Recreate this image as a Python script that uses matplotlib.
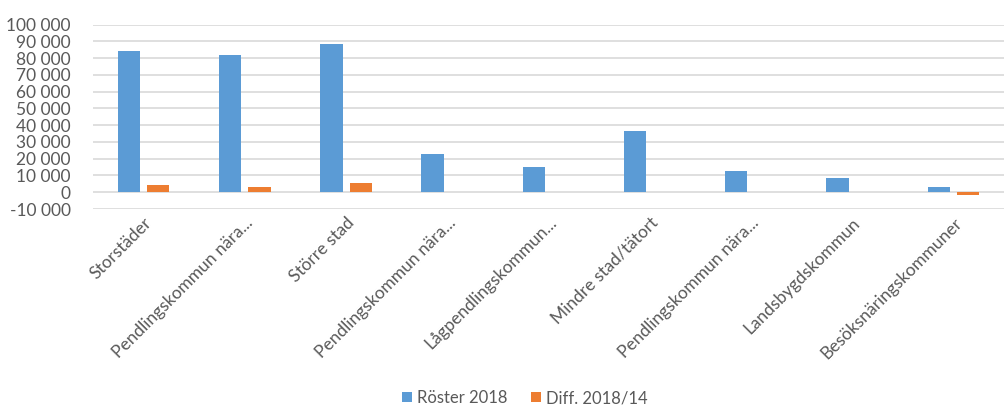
import matplotlib
matplotlib.use("Agg")
import matplotlib.pyplot as plt
import numpy as np
from matplotlib.ticker import FuncFormatter, MultipleLocator

categories = ["Storstäder", "Pendlingskommun nära...", "Större stad", "Pendlingskommun nära...",
              "Lågpendlingskommun...", "Mindre stad/tätort", "Pendlingskommun nära...",
              "Landsbygdskommun", "Besöksnäringskommuner"]
roster_2018 = [84300, 81700, 88300, 23000, 15200, 36500, 12400, 8600, 3200]
diff_2018_14 = [4600, 3200, 5800, 0, 0, 0, 0, 0, -1400]

plt.rcParams['font.family'] = ['Lato', 'DejaVu Sans']
fig = plt.figure(figsize=(10.06, 4.07), dpi=100)
ax = fig.add_axes([93/1006, (407-209)/407, (1004-93)/1006, (209-24.7)/407])

x = np.arange(len(categories))
w = 0.22
ax.bar(x - 0.145, roster_2018, w, color="#5B9BD5", label="Röster 2018", zorder=3)
ax.bar(x + 0.145, diff_2018_14, w, color="#ED7D31", label="Diff. 2018/14", zorder=3)

ax.set_xlim(-0.5, len(categories) - 0.5)
ax.set_ylim(-10000, 100000)
ax.yaxis.set_major_locator(MultipleLocator(10000))
ax.yaxis.set_major_formatter(FuncFormatter(lambda v, p: f"{int(v):,}".replace(",", " ")))
ax.grid(axis="y", color="#D9D9D9", linewidth=1.2, zorder=0)
for s in ax.spines.values():
    s.set_visible(False)
ax.tick_params(axis="both", length=0, colors="#595959")
ax.tick_params(axis="y", pad=16, labelsize=12.5)
ax.set_xticks(x)
ax.set_xticklabels(categories, rotation=45, ha="right", rotation_mode="anchor", color="#595959",
                   fontsize=12.5)
ax.tick_params(axis="x", pad=4)

fig.legend(loc="center", bbox_to_anchor=(0.522, 9/407), ncol=2, frameon=False,
           fontsize=12, handlelength=0.6, handleheight=0.6, columnspacing=1.4,
           handletextpad=0.3, labelcolor="#595959")
fig.savefig("out.png", dpi=100)
